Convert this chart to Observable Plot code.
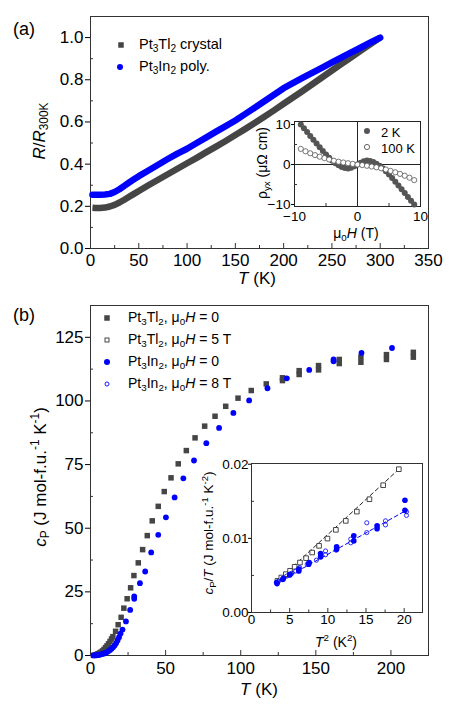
<!DOCTYPE html>
<html><head><meta charset="utf-8">
<script src="https://cdn.jsdelivr.net/npm/d3@7"></script>
<script src="https://cdn.jsdelivr.net/npm/@observablehq/plot@0.6"></script>
<style>
body{margin:0;background:#fff;}
#root{position:relative;width:450px;height:707px;font-family:"Liberation Sans",Arial,sans-serif;color:#000;overflow:hidden;background:#fff;}
.t{position:absolute;white-space:nowrap;line-height:1;}
.sb{font-size:0.7em;vertical-align:-0.3em;}
.sp{font-size:0.7em;vertical-align:0.55em;}
.mk{position:absolute;overflow:visible;}
</style></head><body><div id="root"></div>
<script>
// ---------- Panel (a): R/R300K vs T ----------
const tA   = [2,5,10,15,20,25,30,35,40,45,50,60,70,80,90,100,110,120,130,140,150,160,170,180,190,200,210,220,230,240,250,260,270,280,290,300];
const rTl  = [.193,.192,.192,.194,.199,.207,.218,.231,.245,.259,.273,.300,.326,.352,.378,.404,.430,.457,.483,.510,.538,.566,.595,.625,.655,.686,.717,.748,.780,.812,.844,.876,.907,.938,.969,1.0];
const rIn  = [.255,.255,.255,.256,.259,.268,.281,.297,.313,.328,.343,.370,.397,.424,.450,.473,.500,.527,.554,.580,.607,.637,.667,.698,.729,.760,.785,.810,.834,.858,.882,.906,.930,.953,.977,1.0];

// inset (a): Hall resistivity
const h2K   = [-9,-8.5,-8,-7.5,-7,-6.5,-6,-5.5,-5,-4.5,-4,-3.5,-3,-2.5,-2,-1.5,-1,-0.5,0,0.5,1,1.5,2,2.5,3,3.5,4,4.5,5,5.5,6,6.5,7,7.5,8,8.5,9];
const rho2K = [10,9.05,8.1,7.15,6.2,5.25,4.3,3.4,2.5,1.7,0.95,0.3,-0.2,-0.6,-0.9,-1.0,-0.8,-0.45,0,0.45,0.8,1.0,0.9,0.6,0.2,-0.3,-0.95,-1.7,-2.5,-3.4,-4.3,-5.25,-6.2,-7.15,-8.1,-9.05,-10];
const h100K   = [-9,-8.25,-7.5,-6.75,-6,-5.25,-4.5,-3.75,-3,-2.25,-1.5,-0.75,0,0.75,1.5,2.25,3,3.75,4.5,5.25,6,6.75,7.5,8.25,9];
const rho100K = [3.9,3.3,2.8,2.35,1.95,1.6,1.25,0.95,0.7,0.5,0.32,0.15,0,-0.15,-0.32,-0.5,-0.7,-0.95,-1.25,-1.6,-1.95,-2.35,-2.8,-3.3,-3.9];

// ---------- Panel (b): specific heat ----------
const tTl = [2,3,4,5,6,7,8,9,10,11,12,13,14,14.9,16.7,18.4,20.4,22.2,24.4,26.7,28.9,31.8,34.7,37.8,41.1,45.1,49.1,53.6,58.4,63.8,69.6,76,82.9,90,98.2,107,117,127.8,127.8,138.9,138.9,151.8,151.8,165.6,165.6,180,180,197,197,214.9,214.9];
const cTl = [0.05,0.15,0.4,0.7,1.0,1.35,1.8,2.4,3.1,3.8,4.6,5.5,6.5,7.4,9.5,12.1,15.0,18.6,22.3,26.6,31.4,36.4,41.6,47.1,52.9,58.6,64.4,69.8,75.3,80.5,85.5,90.1,94,97.9,101.1,104.1,106.7,109.1,108.0,111.9,110.4,113.9,112.2,116.3,114.7,117.2,115.2,118.2,116.3,119.1,117.2];
const tIn = [2,3,4,5,6,7,8,9,10,11,12,13,14,15,16,17,18,19,20,21.3,23.6,26.4,29.1,29.1,32.9,36.4,40.4,45.1,50.2,56,61.8,68.9,77.1,85.6,95.1,105.6,117.8,130.7,145.6,161.8,161.8,180.4,200.7];
const cIn = [0.02,0.05,0.1,0.2,0.3,0.45,0.6,0.8,1.0,1.35,1.75,2.2,2.7,3.2,3.9,4.8,5.9,7.2,8.6,10.2,13.4,17.9,23.2,22.3,28.4,33.0,40.5,47.4,54.3,62.1,69.6,76.6,83.4,89.4,95.3,100.2,105.0,108.9,112.2,116.3,115.6,118.9,120.8];

// inset (b): cP/T vs T^2
const t2Tl5T = [3.4,3.9,4.5,5.05,5.65,6.35,7.15,7.95,8.85,9.95,11.05,12.35,13.8,15.45,17.25,19.3];
const cTTl5T = [0.00427,0.00472,0.00517,0.00562,0.00616,0.00674,0.00733,0.00809,0.00899,0.00997,0.01115,0.01236,0.01361,0.01528,0.01717,0.01933];
const t2In0  = [3.3,3.35,4.15,4.1,5.05,5.0,6.2,6.2,7.55,7.5,9.05,9.05,11.15,11.15,13.4,13.4,16.45,16.45,20.1,20.1];
const cTIn0  = [0.00404,0.0039,0.00458,0.00445,0.00517,0.00505,0.00585,0.0056,0.00674,0.0065,0.00795,0.0075,0.00885,0.00854,0.01034,0.00966,0.01168,0.0113,0.01515,0.0138];
const t2In8  = [3.5,4.2,4.6,5.3,5.8,6.3,7.3,8.5,9.7,9.7,11.1,13.0,13.0,15.1,15.1,17.55,17.55,20.3,20.3];
const cTIn8  = [0.0042,0.00465,0.0049,0.0053,0.0056,0.00606,0.00652,0.00706,0.0083,0.0078,0.0084,0.0099,0.0094,0.0121,0.01078,0.01236,0.01182,0.0136,0.0131];
const fitTl5T = [0.00105, 0.000947];   // intercept (gamma), slope (beta)
const fitIn   = [0.0021, 0.000576];

// tick values
const ticksRA = [0,0.2,0.4,0.6,0.8,1.0], minorRA = [0.1,0.3,0.5,0.7,0.9];
const ticksTA = [0,50,100,150,200,250,300,350], minorTA = [25,75,125,175,225,275,325];
const ticksHx = [-10,0,10], ticksHy = [-10,0,10];
const ticksCB = [0,25,50,75,100,125], minorCB = [12.5,37.5,62.5,87.5,112.5];
const ticksTB = [0,50,100,150,200], minorTB = [25,75,125,175];
const ticksIy = [0,0.01,0.02], minorIy = [0.005,0.015];
const ticksIx = [0,5,10,15,20], minorIx = [2.5,7.5,12.5,17.5];

// ---------- helpers ----------
const DARK = "#454545", BLUE = "#0000ff", TICK = "#333", FONT = '"Liberation Sans", Arial, sans-serif';
const root = document.getElementById("root");
const zip = (xs, ys) => xs.map((x, i) => ({x, y: ys[i]}));
function addPlot([l, t, r, b], opts) {
  const svg = Plot.plot({
    width: 450, height: 707,
    marginLeft: l, marginTop: t, marginRight: 450 - r, marginBottom: 707 - b,
    style: {background: "transparent", overflow: "visible", position: "absolute", left: "0px", top: "0px", fontFamily: FONT, color: "#000"},
    ...opts
  });
  root.appendChild(svg);
}
const yLab = (ticks, len, pad, fmt, size) => Plot.axisY({ticks, tickSize: len, tickPadding: pad, tickFormat: fmt, fontSize: size, label: null});
const xLab = (ticks, pad, fmt, size) => Plot.axisX({ticks, tickSize: 0, tickPadding: pad, tickFormat: fmt, fontSize: size, label: null});
const yIn = (ticks, len) => Plot.axisY({ticks, tickSize: len, dx: len, tickFormat: () => "", label: null, color: TICK});
const xIn = (ticks, len) => Plot.axisX({ticks, tickSize: len, dy: -len, tickFormat: () => "", label: null, color: TICK});
function txt(html, x, y, size, mode = "c", rot = false) {
  const d = document.createElement("div");
  d.className = "t";
  d.innerHTML = html;
  d.style.left = x + "px"; d.style.top = y + "px"; d.style.fontSize = size + "px";
  d.style.transform = (mode === "c" ? "translate(-50%,-50%)" : "translate(0,-50%)") + (rot ? " rotate(-90deg)" : "");
  root.appendChild(d);
}
function mark(kind, cx, cy, s, color) {
  const ns = "http://www.w3.org/2000/svg";
  const svg = document.createElementNS(ns, "svg");
  svg.setAttribute("class", "mk"); svg.setAttribute("width", 14); svg.setAttribute("height", 14);
  svg.style.left = (cx - 7) + "px"; svg.style.top = (cy - 7) + "px";
  let e;
  if (kind.startsWith("sq")) { e = document.createElementNS(ns, "rect"); e.setAttribute("x", 7 - s / 2); e.setAttribute("y", 7 - s / 2); e.setAttribute("width", s); e.setAttribute("height", s); }
  else { e = document.createElementNS(ns, "circle"); e.setAttribute("cx", 7); e.setAttribute("cy", 7); e.setAttribute("r", s); }
  if (kind.endsWith("open")) { e.setAttribute("fill", "white"); e.setAttribute("stroke", color); e.setAttribute("stroke-width", 0.9); }
  else e.setAttribute("fill", color);
  svg.appendChild(e); root.appendChild(svg);
}
const f1 = d3.format(".1f"), f2 = d3.format(".2f"), f0 = d3.format("d");

// ---------- (a) main ----------
addPlot([90, 16, 428, 248], {
  x: {domain: [0, 350]}, y: {domain: [0, 1.1]},
  marks: [
    Plot.frame({stroke: TICK}),
    yLab(ticksRA, 5, 2, f1, 17), yIn(minorRA, 3),
    xLab(ticksTA, 5, f0, 17), xIn(ticksTA.slice(1, -1), 5), xIn(minorTA, 3),
    Plot.line(zip(tA, rTl), {x: "x", y: "y", stroke: DARK, strokeWidth: 6.5, strokeLinecap: "butt"}),
    Plot.line(zip(tA, rIn), {x: "x", y: "y", stroke: BLUE, strokeWidth: 6.5, strokeLinecap: "round"})
  ]
});
// ---------- (a) inset ----------
addPlot([294, 121, 420, 206], {
  x: {domain: [-10, 10]}, y: {domain: [-10.5, 10.75]},
  marks: [
    Plot.frame({stroke: "#222"}),
    Plot.ruleX([0], {stroke: "#222", strokeWidth: 1}),
    Plot.ruleY([0], {stroke: "#222", strokeWidth: 1}),
    yLab(ticksHy, 3, 1, f0, 13.5), yIn([-5, 5], 3),
    xLab(ticksHx, 5, f0, 13.5), xIn([-5, 5], 3),
    Plot.dot(zip(h2K, rho2K), {x: "x", y: "y", r: 3, fill: "#555"}),
    Plot.dot(zip(h100K, rho100K), {x: "x", y: "y", r: 2.6, fill: "white", stroke: "#555", strokeWidth: 0.8})
  ]
});
// ---------- (b) main ----------
addPlot([90, 305, 428, 655], {
  x: {domain: [0, 225]}, y: {domain: [0, 137.5]},
  marks: [
    Plot.frame({stroke: TICK}),
    yLab(ticksCB, 5, 2, f0, 17), yIn(minorCB, 3),
    xLab(ticksTB, 6, f0, 17), xIn(ticksTB.slice(1), 5), xIn(minorTB, 3),
    Plot.dot(zip(tTl, cTl), {x: "x", y: "y", symbol: "square", r: 3.1, fill: DARK}),
    Plot.dot(zip(tIn, cIn), {x: "x", y: "y", r: 2.9, fill: BLUE})
  ]
});
// ---------- (b) inset ----------
const fitLine = (xs, [a, b]) => d3.extent(xs).map(x => ({x, y: a + b * x}));
addPlot([251, 463, 422, 612], {
  x: {domain: [0, 22.4]}, y: {domain: [0, 0.0201]},
  marks: [
    Plot.frame({stroke: TICK}),
    yLab(ticksIy, 3, 0, f2, 13.5), yIn(minorIy, 3),
    xLab(ticksIx, 2, f0, 13.5), xIn(ticksIx.slice(1), 4), xIn(minorIx, 2.5),
    Plot.line(fitLine(t2Tl5T, fitTl5T), {x: "x", y: "y", stroke: "#222", strokeWidth: 1, strokeDasharray: "4,3"}),
    Plot.line(fitLine(t2In8, fitIn), {x: "x", y: "y", stroke: BLUE, strokeWidth: 1, strokeDasharray: "4,3"}),
    Plot.dot(zip(t2Tl5T, cTTl5T), {x: "x", y: "y", symbol: "square", r: 2.6, fill: "white", stroke: "#333", strokeWidth: 0.9}),
    Plot.dot(zip(t2In0, cTIn0), {x: "x", y: "y", r: 2.8, fill: BLUE}),
    Plot.dot(zip(t2In8, cTIn8), {x: "x", y: "y", r: 2.1, fill: "none", stroke: BLUE, strokeWidth: 0.8})
  ]
});

// ---------- text ----------
txt("(a)", 13, 29, 18, "l");
txt("(b)", 13, 315, 18, "l");
txt('<i>R</i>/<i>R</i><span class="sb">300K</span>', 41, 131, 17, "c", true);
txt('<i>T</i> (K)', 257, 278, 17);
txt('ρ<span class="sb">yx</span> (μΩ cm)', 263, 163, 14, "c", true);
txt('μ<span class="sb">0</span><i>H</i> (T)', 356, 234, 14);
txt('<i>c</i><span class="sb">P</span> (J mol-f.u.<span class="sp">-1</span> K<span class="sp">-1</span>)', 41, 477, 17, "c", true);
txt('<i>T</i> (K)', 259, 689, 17);
txt('<i>c</i><span class="sb">P</span>/<i>T</i> (J mol-f.u.<span class="sp">-1</span> K<span class="sp">-2</span>)', 209, 533, 13.5, "c", true);
txt('<i>T</i><span class="sp">2</span> (K<span class="sp">2</span>)', 336, 641, 14);

// legends
const legA = ['Pt<span class="sb">3</span>Tl<span class="sb">2</span> crystal', 'Pt<span class="sb">3</span>In<span class="sb">2</span> poly.'];
mark("sq", 121, 45, 5.5, DARK); txt(legA[0], 139, 46, 14.5, "l");
mark("ci", 120, 67, 3, BLUE);   txt(legA[1], 139, 68, 14.5, "l");
const legI = ["2 K", "100 K"];
mark("ci", 367, 131, 3, "#555");      txt(legI[0], 381, 132, 13, "l");
mark("ci-open", 367, 147, 2.6, "#555"); txt(legI[1], 381, 148, 13, "l");
const legB = [
  'Pt<span class="sb">3</span>Tl<span class="sb">2</span>, μ<span class="sb">0</span><i>H</i> = 0',
  'Pt<span class="sb">3</span>Tl<span class="sb">2</span>, μ<span class="sb">0</span><i>H</i> = 5 T',
  'Pt<span class="sb">3</span>In<span class="sb">2</span>, μ<span class="sb">0</span><i>H</i> = 0',
  'Pt<span class="sb">3</span>In<span class="sb">2</span>, μ<span class="sb">0</span><i>H</i> = 8 T'];
mark("sq", 107, 318, 5.5, DARK);       txt(legB[0], 128, 318, 14, "l");
mark("sq-open", 107, 340, 4, "#333");  txt(legB[1], 128, 340, 14, "l");
mark("ci", 107, 362, 3, BLUE);         txt(legB[2], 128, 362, 14, "l");
mark("ci-open", 107, 384, 2, BLUE);    txt(legB[3], 128, 384, 14, "l");
</script></body></html>
